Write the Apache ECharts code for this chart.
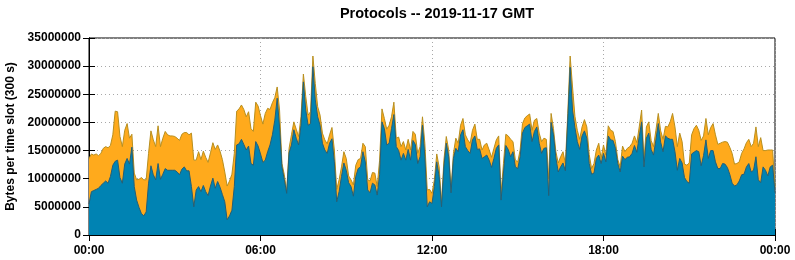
<!DOCTYPE html>
<html><head><meta charset="utf-8">
<script src="https://cdn.jsdelivr.net/npm/echarts@6/dist/echarts.min.js"></script>
<style>html,body{margin:0;padding:0;background:#fff}#c{width:795px;height:260px}</style>
</head><body><div id="c"></div>
<script>
const chartTitle = 'Protocols -- 2019-11-17 GMT';
const yAxisTitle = 'Bytes per time slot (300 s)';
const slotMinutesStep = 5; // 300 s time slots
const xTickLabels = ['00:00', '06:00', '12:00', '18:00', '00:00'];
const yTickLabels = ['0', '5000000', '10000000', '15000000', '20000000', '25000000', '30000000', '35000000'];

// lower (blue) protocol, millions of bytes per slot
const blueMB = [
5.5,7.7,7.9,8.1,8.3,8.8,9.2,9.6,9.2,10.4,12.4,13.1,13.3,10.2,9.2,12.6,13.6,12.6,15.6,8.6,
6.2,4.9,3.8,3.4,4.1,9.2,12.3,10.7,9.8,12.7,9.9,10.8,11.8,11.5,11.5,11.5,11.5,11.2,10.7,11.7,
12.1,11.4,11.4,8.6,5.0,8.0,8.6,7.7,8.8,7.7,7.0,8.7,10.1,8.3,9.5,8.5,7.2,5.9,2.7,3.4,
4.4,8.6,16.0,16.2,17.0,16.1,15.1,15.8,12.7,12.4,16.6,15.8,14.4,12.9,13.3,14.8,16.0,17.8,20.4,24.3,
19.2,12.1,9.8,7.4,14.6,16.0,18.7,17.2,16.0,19.5,27.2,22.2,19.5,19.8,29.9,24.0,21.0,19.5,16.3,15.1,
14.5,16.3,17.1,13.0,5.9,7.7,10.4,12.8,11.5,9.3,8.6,6.9,10.4,11.8,12.1,14.8,13.0,8.0,7.5,9.2,
8.9,7.1,10.7,20.1,18.9,16.0,16.3,18.9,21.4,15.7,15.0,13.3,14.5,13.3,15.2,13.3,16.8,16.1,12.7,13.9,
19.5,13.9,5.0,5.9,5.6,8.6,13.0,10.4,5.0,12.1,16.3,13.9,7.5,13.6,15.4,14.8,17.8,18.7,15.7,15.0,
14.5,16.9,17.6,15.2,15.3,13.6,13.9,14.2,13.3,12.0,13.6,15.4,16.0,6.2,11.0,15.9,15.2,13.9,14.8,12.1,
11.8,13.9,18.1,19.1,19.4,19.7,16.6,18.4,19.2,16.3,14.5,15.4,15.5,7.0,20.0,17.8,13.7,11.2,12.1,12.8,
11.4,20.4,29.8,22.2,19.1,16.6,15.2,17.6,18.5,17.2,12.7,10.8,11.0,13.6,14.2,12.7,14.5,13.0,17.6,16.9,
16.8,15.4,12.7,11.2,14.0,13.4,13.8,13.9,14.5,15.9,14.7,17.5,20.1,12.1,17.2,18.1,15.2,14.2,16.9,19.8,
16.5,14.8,17.6,17.2,17.0,17.0,14.8,11.5,13.6,12.8,10.2,9.5,9.2,14.4,14.7,15.0,14.8,12.3,14.1,16.9,
13.6,15.0,15.0,13.0,11.8,11.8,12.7,12.6,12.0,10.8,9.2,8.7,8.9,9.6,10.7,10.8,12.1,12.7,11.2,11.5,
13.9,9.8,9.3,12.1,11.5,10.5,12.1,12.4,7.5
];

// top of the stack (blue + orange protocol), millions of bytes per slot
const stackTopMB = [
13.6,14.4,14.2,14.4,14.1,14.5,15.4,15.7,15.5,15.9,17.8,22.0,21.9,17.5,15.7,18.6,19.8,17.2,17.9,11.0,
9.8,9.9,10.2,9.8,9.8,14.5,18.5,16.9,15.7,19.4,15.7,17.2,18.4,17.8,17.6,17.6,17.5,17.2,16.8,17.9,
18.2,18.2,17.8,18.1,13.3,13.3,14.8,13.4,14.9,13.8,12.9,14.6,16.4,15.2,16.0,14.9,13.4,11.2,8.7,9.6,
10.8,14.5,22.0,22.4,23.1,22.3,21.0,21.9,18.9,18.4,23.6,22.9,21.2,19.7,21.6,22.5,22.3,23.5,24.4,26.3,
22.2,12.7,10.7,7.7,15.4,17.8,20.1,18.8,17.5,21.0,28.6,24.6,21.3,21.9,31.8,26.9,22.8,21.3,18.1,16.9,
16.2,17.8,19.1,15.1,8.1,9.8,12.1,14.8,13.6,10.5,9.8,8.9,12.4,13.4,13.6,16.3,15.7,9.8,9.6,11.1,
11.0,8.6,13.3,22.4,20.7,18.8,19.5,21.0,23.6,17.2,17.4,15.7,16.6,15.1,17.0,15.1,18.4,17.9,14.5,15.7,
21.0,16.3,8.0,8.1,7.4,9.8,14.4,12.1,5.7,13.3,17.5,15.1,8.1,14.5,17.2,16.3,19.5,20.7,17.8,16.9,
16.3,18.6,19.7,17.0,17.0,15.1,16.0,16.3,15.1,13.8,15.4,16.9,17.6,7.4,12.7,17.9,17.6,17.0,16.6,13.3,
13.0,15.1,19.8,20.8,21.2,21.5,18.6,20.4,20.7,18.1,16.6,17.2,17.0,10.0,21.6,18.9,14.8,12.8,13.9,14.8,
12.7,21.6,31.8,26.3,21.1,18.6,17.0,19.2,20.5,19.2,14.3,11.8,12.7,15.1,16.3,13.6,16.0,14.2,19.4,18.6,
18.4,16.6,13.4,12.1,15.8,14.8,15.4,15.7,16.3,17.6,16.4,19.2,22.2,13.3,19.2,20.1,16.8,15.7,18.6,21.6,
18.5,17.0,19.3,19.2,20.1,21.6,19.2,15.7,18.1,16.6,12.6,12.4,12.8,17.8,18.9,19.5,18.6,16.8,17.6,20.7,
17.8,19.1,19.8,17.8,16.1,16.3,16.5,16.6,16.5,15.6,14.5,12.6,12.7,13.0,14.5,15.3,16.4,17.0,15.7,16.3,
19.2,15.7,17.3,15.0,15.0,15.1,15.1,15.1,8.5
];

const slotMinutes = blueMB.map((_, i) => i * slotMinutesStep);
const toBytes = mb => Math.round(mb * 1e6);

const font = 'Liberation Sans, Arial, Helvetica, sans-serif';
const tickInside = { show: true, inside: true, length: 6, lineStyle: { color: '#000', width: 1 } };
const gridDots = { show: true, lineStyle: { color: '#a8a8a8', width: 1, type: [1, 3] } };

const chart = echarts.init(document.getElementById('c'), null, { renderer: 'canvas' });
chart.setOption({
  animation: false,
  backgroundColor: '#fff',
  title: {
    text: chartTitle, left: 432, top: 1, textAlign: 'center',
    textStyle: { fontFamily: font, fontWeight: 'bold', fontSize: 14.5, color: '#000' }
  },
  grid: { left: 89, right: 20, top: 38, bottom: 25, containLabel: false, outerBoundsMode: 'none',
    show: true, borderColor: '#000', borderWidth: 1, backgroundColor: 'transparent' },
  xAxis: [{
    type: 'value', min: 0, max: 1440, interval: 360,
    axisLine: { show: true, lineStyle: { color: '#000', width: 1 } },
    axisTick: tickInside,
    splitLine: gridDots,
    axisLabel: { margin: 10, fontFamily: font, fontWeight: 'bold', fontSize: 12, color: '#000',
      formatter: v => xTickLabels[Math.round(v / 360)] }
  }, {
    type: 'value', position: 'top', min: 0, max: 1440, interval: 360,
    axisLine: { show: true, lineStyle: { color: '#000', width: 1 } },
    axisTick: tickInside, axisLabel: { show: false }, splitLine: { show: false }
  }],
  yAxis: [{
    type: 'value', min: 0, max: 35000000, interval: 5000000,
    name: yAxisTitle, nameLocation: 'middle', nameGap: 72, nameRotate: 90,
    nameTextStyle: { fontFamily: font, fontWeight: 'bold', fontSize: 12, color: '#000' },
    axisLine: { show: true, lineStyle: { color: '#000', width: 1 } },
    axisTick: tickInside,
    splitLine: gridDots,
    axisLabel: { margin: 8, fontFamily: font, fontWeight: 'bold', fontSize: 12, color: '#000',
      formatter: v => yTickLabels[Math.round(v / 5000000)] }
  }, {
    type: 'value', position: 'right', min: 0, max: 35000000, interval: 5000000,
    axisLine: { show: true, lineStyle: { color: '#000', width: 1 } },
    axisTick: tickInside, axisLabel: { show: false }, splitLine: { show: false }
  }],
  series: [{
    name: 'other', type: 'line', showSymbol: false, z: 2,
    data: slotMinutes.map((m, i) => [m, toBytes(stackTopMB[i])]),
    lineStyle: { color: '#b88f1e', width: 1 },
    areaStyle: { color: '#ffaa1c', opacity: 1 }
  }, {
    name: 'main', type: 'line', showSymbol: false, z: 3,
    data: slotMinutes.map((m, i) => [m, toBytes(blueMB[i])]),
    lineStyle: { color: '#235f78', width: 1 },
    areaStyle: { color: '#0083b3', opacity: 1 }
  }]
});
</script></body></html>
